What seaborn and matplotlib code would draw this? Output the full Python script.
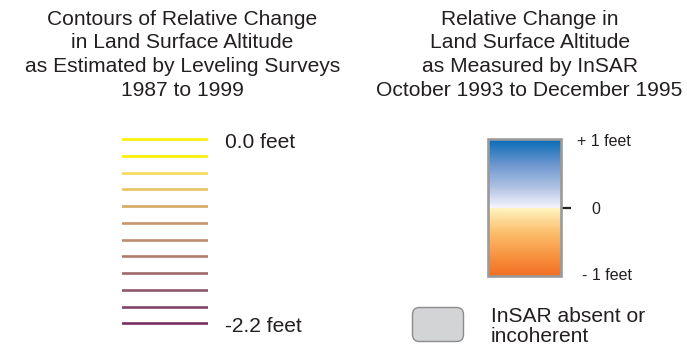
import numpy as np
import pandas as pd
import matplotlib
matplotlib.use("Agg")
import matplotlib.pyplot as plt
import seaborn as sns
from matplotlib.colors import LinearSegmentedColormap, Normalize
from matplotlib.cm import ScalarMappable
from matplotlib.patches import FancyBboxPatch
from matplotlib.transforms import offset_copy

# ---- data ----
contour_levels = [0.0, -0.2, -0.4, -0.6, -0.8, -1.0, -1.2, -1.4, -1.6, -1.8, -2.0, -2.2]
contour_colors = ["#FFF200", "#FFF000", "#F6DA5A", "#E8C464", "#D6A862", "#C89668",
                  "#BE8C6E", "#B07C6C", "#A0686E", "#8E586E", "#804468", "#763064"]
contour_label_levels = [0.0, -2.2]
contour_label_texts = ["0.0 feet", "-2.2 feet"]

insar_range = [-1.0, 1.0]
insar_ticks = [0]
insar_tick_labels = ["0"]
insar_end_labels = ["- 1 feet", "+ 1 feet"]

left_title = ["Contours of Relative Change", "in Land Surface Altitude",
              "as Estimated by Leveling Surveys", "1987 to 1999"]
right_title = ["Relative Change in", "Land Surface Altitude",
               "as Measured by InSAR", "October 1993 to December 1995"]
absent_label = ["InSAR absent or", "incoherent"]

# ---- figure ----
sns.set_theme(style="white")
plt.rcParams["font.family"] = ["Liberation Sans", "DejaVu Sans"]
W, H = 687, 350
fig = plt.figure(figsize=(W / 100, H / 100), dpi=100)
fig.patch.set_facecolor("white")

TITLE_PT = 21 * 72 / 100
SMALL_PT = 16 * 72 / 100
txt_color = "#231F20"

# overlay axes in pixel coordinates for text and swatch
ov = fig.add_axes([0, 0, 1, 1])
ov.set_xlim(0, W)
ov.set_ylim(H, 0)
ov.axis("off")

baselines = [25, 48.5, 72, 95.5]
for line, yb in zip(left_title, baselines):
    ov.text(182.5, yb, line, ha="center", va="baseline", fontsize=TITLE_PT, color=txt_color)
for line, yb in zip(right_title, baselines):
    ov.text(529.5, yb, line, ha="center", va="baseline", fontsize=TITLE_PT, color=txt_color)

# ---- contour line legend (seaborn) ----
px_per_unit = 16.73 / 0.2
y_top_px = 139.3 - 0.1 * px_per_unit
y_bot_px = 323.3 + 0.1 * px_per_unit
axl = fig.add_axes([122 / W, (H - y_bot_px) / H, 86 / W, (y_bot_px - y_top_px) / H])
rows = []
for lev in contour_levels:
    for xv in (0.0, 1.0):
        rows.append({"x": xv, "level": lev, "lev_name": f"{lev:.1f}"})
df = pd.DataFrame(rows)
palette = {f"{lev:.1f}": c for lev, c in zip(contour_levels, contour_colors)}
sns.lineplot(data=df, x="x", y="level", hue="lev_name", palette=palette,
             linewidth=1.9, legend=False, ax=axl, estimator=None, sort=False)
axl.set_xlim(0, 1)
axl.set_ylim(-2.3, 0.1)
axl.axis("off")
tr = offset_copy(axl.transData, fig=fig, x=0, y=-8.3, units="dots")
for lev, lab in zip(contour_label_levels, contour_label_texts):
    axl.text(1.198, lev, lab, transform=tr, ha="left", va="baseline",
             fontsize=TITLE_PT, color=txt_color)

# ---- InSAR colorbar ----
cmap = LinearSegmentedColormap.from_list("insar", [
    (0.0, "#F26E22"), (0.15, "#F79442"), (0.32, "#FCBE6C"),
    (0.499, "#FFF5C2"), (0.501, "#F3F4FB"), (0.64, "#B3C4E4"),
    (0.82, "#6B95CE"), (1.0, "#066CB6")])
norm = Normalize(vmin=insar_range[0], vmax=insar_range[1])
cax = fig.add_axes([488.2 / W, (H - 275.8) / H, 72.6 / W, 136.6 / H])
cb = fig.colorbar(ScalarMappable(norm=norm, cmap=cmap), cax=cax, orientation="vertical")
cb.outline.set_edgecolor("#9A9A9A")
cb.outline.set_linewidth(1.9)
cb.set_ticks(insar_ticks)
cb.set_ticklabels(insar_tick_labels)
cax.tick_params(axis="y", right=True, left=False, length=7.2, width=1.6,
                color="#231F20", pad=15, labelsize=SMALL_PT, labelcolor=txt_color)
cax.yaxis.set_ticks_position("right")

ov.text(582, 280, insar_end_labels[0], ha="left", va="baseline", fontsize=SMALL_PT, color=txt_color)
ov.text(577, 145.7, insar_end_labels[1], ha="left", va="baseline", fontsize=SMALL_PT, color=txt_color)

# ---- absent / incoherent swatch ----
box = FancyBboxPatch((412.5, 307.5), 51, 34, boxstyle="round,pad=0,rounding_size=7",
                     facecolor="#D3D4D6", edgecolor="#8C8C8C", linewidth=1.0)
ov.add_patch(box)
ov.text(491, 322, absent_label[0], ha="left", va="baseline", fontsize=TITLE_PT, color=txt_color)
ov.text(491, 342, absent_label[1], ha="left", va="baseline", fontsize=TITLE_PT, color=txt_color)

fig.savefig("out.png", dpi=100, facecolor="white")
